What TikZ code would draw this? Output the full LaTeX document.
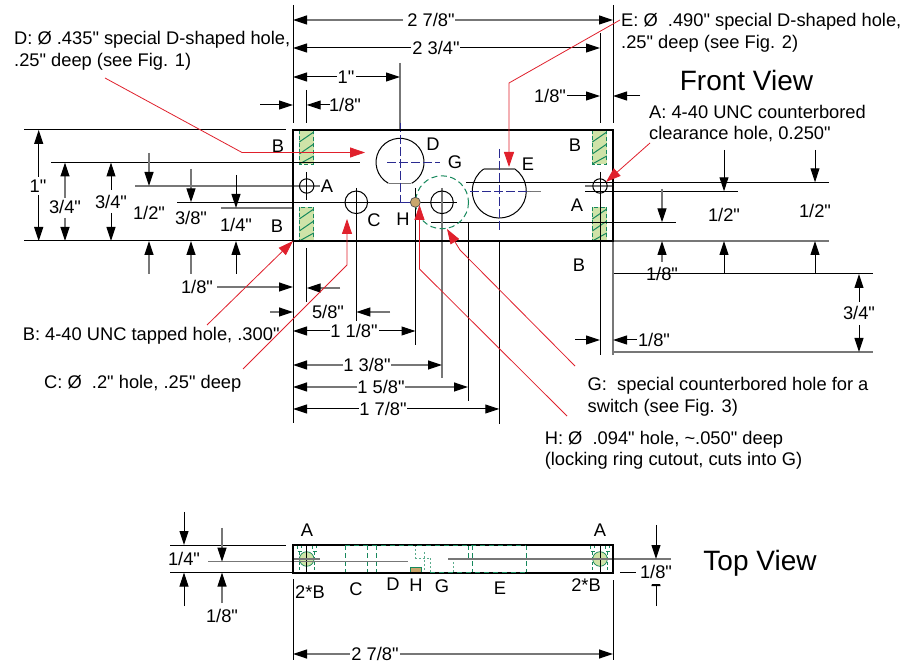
\documentclass[tikz,border=0pt]{standalone}
\usepackage{fontspec}
\newfontfamily\lf{Liberation Sans}
\usetikzlibrary{arrows.meta}
\definecolor{gr}{HTML}{16885C}
\definecolor{lgr}{HTML}{CFE3A8}
\definecolor{nv}{HTML}{2A2A90}
\definecolor{rd}{HTML}{E0202C}
\definecolor{tn}{HTML}{C9A66B}
\definecolor{gy}{HTML}{777777}
\newcommand{\lb}[4][center]{\node[lbl,anchor=#1] at (#2,#3) {#4};}
\newcommand{\hatchbox}[2]{%
  \fill[lgr] (#1,#2) rectangle ++(14.5,34);
  \draw[gdash] (#1,#2) rectangle ++(14.5,34);
  \draw[gr,line width=1pt] (#1,#2+12) -- ++(14.5,-10) (#1,#2+24) -- ++(14.5,-10) (#1,#2+34) -- ++(14.5,-8);}
\newcommand{\tophole}[1]{%
  \draw[gdash] (#1-9.5,545) -- (#1-9.5,551) -- (#1-5.5,551) -- (#1-5.5,545) (#1+5.5,545) -- (#1+5.5,551) -- (#1+9.5,551) -- (#1+9.5,545);
  \draw[gr,densely dashed,line width=.8pt] (#1-7.2,552) -- (#1-7.2,572) (#1+7.2,552) -- (#1+7.2,572);
  \filldraw[fill=lgr,draw=gr,line width=.7pt] (#1,559) circle (7.3);}
\tikzset{
  lbl/.style={inner sep=0pt,font=\lf\fontsize{18.3}{22}\selectfont,text height=13pt,text depth=0pt},
  big/.style={inner sep=0pt,font=\lf\fontsize{28}{32}\selectfont},
  ln/.style={line width=1pt,black},
  gl/.style={line width=1.1pt,gy},
  ar/.style={line width=1pt,black,-{Triangle[length=14pt,width=9pt]}},
  ga/.style={line width=1.2pt,gy,-{Triangle[length=14pt,width=9pt,color=black]}},
  ra/.style={line width=.8pt,rd,-{Triangle[length=15pt,width=10pt]}},
  gdash/.style={gr,line width=.8pt,dash pattern=on 4pt off 2.5pt},
  bdash/.style={nv,line width=1pt,dash pattern=on 9pt off 3pt},
  part/.style={line width=2pt,black},
  hole/.style={line width=1pt,black}
}
\begin{document}
\begin{tikzpicture}[x=1pt,y=-1pt]
\useasboundingbox (0,0) rectangle (906,668);
\fill[white] (0,0) rectangle (906,668);
% hatched tapped holes
\hatchbox{299.3}{130}\hatchbox{299.3}{207}\hatchbox{592.3}{130}\hatchbox{592.3}{207}
% extension lines, top
\draw[ln] (293,5)--(293,123) (613,5)--(613,123) (600,33)--(600,123) (306.7,90)--(306.7,123);
\draw[gl] (400,63)--(400,130);
% extension lines, left
\draw[ln] (24,130)--(286,130) (51,162.5)--(360,162.5) (24,241)--(293,241) (177,202.3)--(457,202.3);
\draw[gl] (135,186)--(320,186) (221,208)--(293,208) (585,186)--(613,186);
% extension lines, right
\draw[ln] (466,182.3)--(829,182.3) (585,191.3)--(738,191.3) (431,222.3)--(676,222.3) (613,274)--(873,274);
\draw[gl] (613,241)--(829,241) (613,352)--(873,352) (613,241)--(613,355) (520,191.3)--(541,191.3);
\draw[ln] (600,172)--(600,355);
% lower extension lines
\draw[ln] (306.7,172)--(306.7,200) (306.7,248)--(306.7,302) (356.3,188)--(356.3,321)
 (415.5,188)--(415.5,345) (468,222)--(468,401) (499.3,241)--(499.3,424) (293,241)--(293,423);
\draw[gl] (442,188)--(442,378);
% holes
\draw[hole] (306.7,186) circle (7.2) (600,186) circle (7.2) (356.3,202.3) circle (11.3) (442,202.3) circle (11.3);
\draw[gr,line width=1pt,dash pattern=on 6pt off 3.5pt] (442,202.3) circle (26.5);
\draw[hole] (388.4,183.3) arc[start angle=119,end angle=421,radius=24];
\draw[gl,line width=1.2pt] (389,183.5)--(411,183.5);
\draw[hole] (514.9,169) arc[start angle=-54.7,end angle=234.7,radius=27];
\draw[gl,line width=1.3pt] (484,169)--(515,169);
\draw[bdash] (400,123)--(400,202.3) (387,162.5)--(440,162.5) (499.3,149)--(499.3,232) (470,191.3)--(530,191.3);
\draw[nv,line width=1pt] (400,202.3)--(412,202.3);
\filldraw[fill=tn,draw=black!70,line width=.7pt] (415.3,202.3) circle (5);
% part outline
\draw[part] (293,130) rectangle (613,241);
% dimension arrows, top
\draw[ga] (403,20)--(293,20); \draw[ga] (455,20)--(613,20);
\draw[ar] (411,48)--(293,48); \draw[ar] (460,48)--(600,48);
\draw[ar] (337,77)--(293,77); \draw[ar] (356,77)--(400,77);
\draw[ar] (260,105)--(293,105); \draw[ar] (330,105)--(306.7,105);
\draw[ar] (567,96)--(600,96); \draw[ar] (640,96)--(613,96);
% left
\draw[ar] (38.7,177)--(38.7,130); \draw[ar] (38.7,195)--(38.7,241);
\draw[ga] (65,198)--(65,162.5); \draw[ga] (65,218)--(65,241);
\draw[ar] (111,190)--(111,162.5); \draw[ar] (111,213)--(111,241);
\draw[ga] (149,153)--(149,186); \draw[ga] (149,274)--(149,241);
\draw[ga] (191,169)--(191,202.3); \draw[ga] (191,274)--(191,241);
\draw[ar] (236,175)--(236,208); \draw[ar] (236,274)--(236,241);
% below
\draw[ga] (217,287)--(293,287); \draw[ga] (340,288)--(306.7,288);
\draw[ga] (270,312)--(293,312); \draw[ga] (390,312)--(356.3,312);
\draw[ar] (330,331)--(293,331); \draw[ar] (379,331)--(415.5,331);
\draw[ga] (343,365)--(293,365); \draw[ga] (391,365)--(442,365);
\draw[ga] (357,387)--(293,387); \draw[ga] (405,387)--(468,387);
\draw[ar] (359,409)--(293,409); \draw[ar] (407,409)--(499.3,409);
% right
\draw[ga] (662,189)--(662,222.3); \draw[ga] (662,262)--(662,241);
\draw[ar] (724,150)--(724,191.3); \draw[ar] (724,274)--(724,241);
\draw[ar] (815,150)--(815,182.3); \draw[ar] (815,274)--(815,241);
\draw[ar] (859,302)--(859,274); \draw[ar] (859,325)--(859,352);
\draw[ar] (575,340)--(600,340); \draw[ar] (637,340)--(613,340);
% red leaders
\draw[ra] (105,78)--(242,152.5)--(365,152.5);
\draw[ra] (620,20)--(509,83)--(509,167);
\draw[ra] (650,143)--(606,182);
\draw[ra] (207,325)--(293,241);
\draw[ra] (243,369)--(347,265)--(347,219);
\draw[ra] (567,416)--(419.5,269)--(419.5,205);
\draw[ra] (575,366)--(460,250)--(447,229);
% top view
\fill[tn] (410,567) rectangle (421,572);
\draw[gr,line width=.8pt] (410,567) rectangle (421,572);
\tophole{306.7}\tophole{600}
\draw[gr,line width=.9pt,dash pattern=on 5pt off 3pt] (345.3,545)--(345.3,572) (367.3,545)--(367.3,572) (376,545)--(376,572) (472,545)--(472,572) (526,545)--(526,572) (468,545)--(468,558);
\draw[gr!70,line width=1pt,dash pattern=on 2pt off 2pt] (415,545)--(415,559) (424,552)--(424,572) (430,558)--(430,572) (453,558)--(453,572) (415,558)--(430,558) (453,558)--(468,558);
\draw[ln] (170,545)--(286,545) (170,572.5)--(293,572.5) (306.7,545)--(306.7,572) (600,545)--(600,572) (620,572.3)--(636,572.3);
\draw[gl] (208,561.7)--(408,561.7) (448,559)--(671,559) (293,559)--(320,559);
\draw[part] (293,545) rectangle (613,572.5);
\draw[gr,line width=.9pt,dash pattern=on 5pt off 4pt] (345,545)--(526,545) (430,572.5)--(526,572.5);
\draw[ln] (293,579)--(293,660) (613,580)--(613,660);
\draw[ga] (350,654)--(293,654); \draw[ga] (400,654)--(613,654);
\draw[ar] (184,512)--(184,545); \draw[ar] (184,606)--(184,572.5);
\draw[ga] (222,528)--(222,561.7); \draw[ga] (222,603)--(222,572.5);
\draw[ar] (656,525)--(656,559); \draw[ar] (656,606)--(656,572);
\fill[white] (640,563) rectangle (674,584);
% texts
\node[big] (front) at (746.5,80) {Front View};
\node[big] (topv) at (760,563) {Top View};
\lb{431}{20}{2 7/8"} \lb{436}{48}{2 3/4"} \lb{346}{77}{1"} \lb{345}{105}{1/8"} \lb{550}{96}{1/8"}
\lb{38}{186}{1"} \lb{65}{207}{3/4"} \lb{111}{202}{3/4"} \lb{149}{213}{1/2"} \lb{191}{218}{3/8"} \lb{236}{225}{1/4"}
\lb{197}{287}{1/8"} \lb{328}{312}{5/8"} \lb{354}{331}{1 1/8"} \lb{367}{365}{1 3/8"} \lb{381}{387}{1 5/8"} \lb{383}{409}{1 7/8"}
\lb{662}{274}{1/8"} \lb{724}{215}{1/2"} \lb{815}{211}{1/2"} \lb{859}{313}{3/4"} \lb{654}{340}{1/8"}
\lb{278}{146}{B} \lb{277}{226}{B} \lb{327}{186}{A} \lb{433}{144}{D} \lb{455}{162}{G} \lb{374}{220}{C} \lb{403}{219}{H}
\lb{528}{164}{E} \lb{575}{145}{B} \lb{577}{205}{A} \lb{579}{265}{B}
\lb[west]{14}{38}{D: Ø .435" special D-shaped hole,} \lb[west]{14}{60}{.25" deep (see Fig. 1)}
\lb[west]{621}{20}{E: Ø\ \ .490" special D-shaped hole,} \lb[west]{621}{42}{.25" deep (see Fig. 2)}
\lb[west]{649}{112}{A: 4-40 UNC counterbored} \lb[west]{649}{133}{clearance hole, 0.250"}
\lb[west]{22.6}{334}{B: 4-40 UNC tapped hole, .300"}
\lb[west]{44}{382}{C: Ø\ \ .2" hole, .25" deep}
\lb[west]{587.5}{384}{G:\ \ special counterbored hole for a} \lb[west]{587.5}{406}{switch (see Fig. 3)}
\lb[west]{544.6}{438}{H: Ø\ \ .094" hole, \textasciitilde .050" deep} \lb[west]{544.6}{459}{(locking ring cutout, cuts into G)}
\lb{184}{559}{1/4"} \lb{222}{616}{1/8"} \lb{656}{572}{1/8"} \lb{375}{654}{2 7/8"}
\lb{307}{530}{A} \lb{600}{530}{A} \lb{310}{592}{2*B} \lb{586}{585}{2*B}
\lb{356}{589}{C} \lb{393}{584}{D} \lb{416}{585}{H} \lb{442}{586}{G} \lb{500}{588}{E}
\end{tikzpicture}
\end{document}
